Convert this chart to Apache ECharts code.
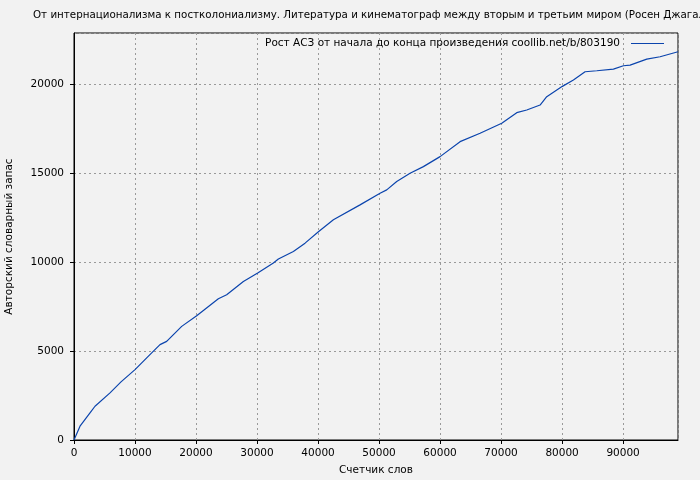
<!DOCTYPE html>
<html>
<head>
<meta charset="utf-8">
<script src="https://cdn.jsdelivr.net/npm/echarts@6/dist/echarts.min.js"></script>
<style>
  html, body { margin: 0; padding: 0; background: #f2f2f2; }
  #chart { width: 700px; height: 480px; }
</style>
</head>
<body>
<div id="chart"></div>
<script>
// счетчик слов
const wordCount = [0, 984, 2623, 3443, 5902, 7705, 10000, 12732, 14098, 15191, 17650, 20110,
  23661, 25027, 27760, 30110, 32678, 33497, 35956, 37869, 40110, 42514, 46885, 50164,
  51257, 52896, 55082, 57268, 60000, 63279, 66557, 70109, 72568, 74208, 76393, 77486,
  80049, 81858, 83770, 85689, 88414, 90055, 91148, 93880, 96066, 99000]
// авторский словарный запас
const vocab = [0, 775, 1528, 1899, 2651, 3270, 3961, 4899, 5365, 5551, 6393, 6994,
  7949, 8174, 8923, 9392, 9955, 10180, 10609, 11076, 11731, 12388, 13230, 13888,
  14073, 14542, 15011, 15382, 15944, 16786, 17257, 17818, 18416, 18567, 18848, 19315,
  19898, 20253, 20719, 20775, 20871, 21056, 21095, 21433, 21562, 21843]

const xTicks = [0, 10000, 20000, 30000, 40000, 50000, 60000, 70000, 80000, 90000]
const yTicks = [0, 5000, 10000, 15000, 20000]

const font = 'DejaVu Sans'
const fontSize = 10.5
const textColor = '#000000'
const lineColor = '#0b44ad'

let myChart = echarts.init(document.getElementById('chart'))

let option = {
  backgroundColor: '#f2f2f2',
  animation: false,
  title: {
    text: 'От интернационализма к постколониализму. Литература и кинематограф между вторым и третьим миром (Росен Джагалов)',
    left: 33,
    top: 10,
    padding: 0,
    textStyle: { fontFamily: font, fontSize: 10.3, fontWeight: 'normal', color: textColor }
  },
  legend: {
    right: 36,
    top: 38,
    padding: 0,
    align: 'right',
    icon: 'rect',
    itemWidth: 33,
    itemHeight: 1,
    itemGap: 0,
    textStyle: { fontFamily: font, fontSize: fontSize, color: textColor, padding: [0, 6, 0, 0] }
  },
  grid: {
    left: 74,
    right: 22,
    top: 33,
    bottom: 40,
    outerBoundsMode: 'none',
    containLabel: false,
    show: true,
    borderColor: '#000',
    borderWidth: 1,
    backgroundColor: 'transparent'
  },
  xAxis: {
    type: 'value',
    min: 0,
    max: 99000,
    interval: 10000,
    name: 'Счетчик слов',
    nameLocation: 'middle',
    nameGap: 25,
    nameTextStyle: { fontFamily: font, fontSize: fontSize, color: textColor },
    axisLine: { show: true, lineStyle: { color: '#000' } },
    axisTick: { show: true, length: 4, lineStyle: { color: '#000' } },
    axisLabel: {
      fontFamily: font, fontSize: fontSize, color: textColor, margin: 8,
      showMaxLabel: false,
      formatter: v => xTicks.includes(v) ? String(v) : ''
    },
    splitLine: { show: true, lineStyle: { color: '#9a9a9a', type: [2, 3] } }
  },
  yAxis: {
    type: 'value',
    min: 0,
    max: 22900,
    interval: 5000,
    name: 'Авторский словарный запас',
    nameLocation: 'middle',
    nameGap: 59,
    nameTextStyle: { fontFamily: font, fontSize: fontSize, color: textColor },
    axisLine: { show: true, lineStyle: { color: '#000' } },
    axisTick: { show: true, length: 4, lineStyle: { color: '#000' } },
    axisLabel: {
      fontFamily: font, fontSize: fontSize, color: textColor, margin: 10,
      showMaxLabel: false,
      formatter: v => yTicks.includes(v) ? String(v) : ''
    },
    splitLine: { show: true, lineStyle: { color: '#9a9a9a', type: [2, 3] } }
  },
  series: [
    {
      name: 'Рост АСЗ от начала до конца произведения coollib.net/b/803190',
      type: 'line',
      showSymbol: false,
      smooth: false,
      lineStyle: { color: lineColor, width: 1.2 },
      itemStyle: { color: lineColor },
      data: wordCount.map((x, i) => [x, vocab[i]])
    }
  ]
}

window.onresize = myChart.resize

option && myChart.setOption(option)
</script>
</body>
</html>
